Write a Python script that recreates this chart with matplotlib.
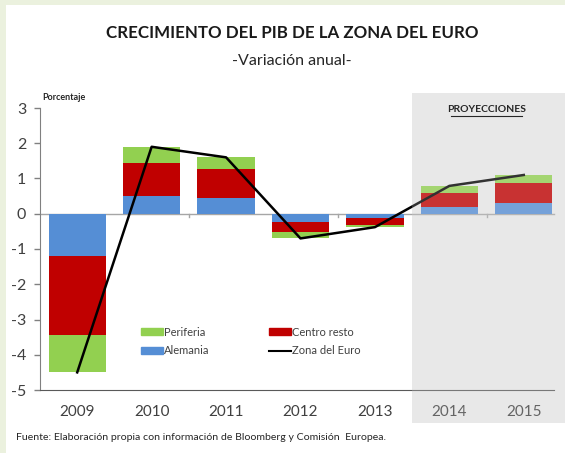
import matplotlib.pyplot as plt
from matplotlib.patches import Rectangle
from matplotlib.lines import Line2D
from matplotlib.transforms import blended_transform_factory

years = ['2009', '2010', '2011', '2012', '2013', '2014', '2015']
alemania = [-1.20, 0.50, 0.45, -0.22, -0.12, 0.20, 0.30]
centro_resto = [-2.25, 0.95, 0.82, -0.31, -0.21, 0.40, 0.57]
periferia = [-1.05, 0.45, 0.33, -0.17, -0.05, 0.19, 0.23]
zona_euro = [-4.50, 1.90, 1.60, -0.70, -0.38, 0.79, 1.10]

plt.rcParams['font.family'] = ['Lato', 'DejaVu Sans']
plt.rcParams['axes.unicode_minus'] = False

c_green = '#92d050'
c_red = '#c00000'
c_blue = '#558ed5'
c_gray = '#e8e8e8'
c_text = '#404040'

fig = plt.figure(figsize=(5.65, 4.53), dpi=100, facecolor='#ebf1de')
fig.patches.append(Rectangle((6 / 565, 0), 1, 1 - 5 / 453, transform=fig.transFigure,
                             facecolor='white', edgecolor='none', zorder=-10))

ax = fig.add_axes([40 / 565, 1 - 390 / 453, 521 / 565, 282 / 453])
ax.set_facecolor('none')

x = list(range(len(years)))
w = 0.77

# stacking: positives and negatives stack away from zero
def stack(*series):
    bottoms = []
    pos = [0.0] * len(years)
    neg = [0.0] * len(years)
    for s in series:
        b = []
        for i, v in enumerate(s):
            if v >= 0:
                b.append(pos[i])
                pos[i] += v
            else:
                b.append(neg[i])
                neg[i] += v
        bottoms.append(b)
    return bottoms

b_ale, b_cen, b_per = stack(alemania, centro_resto, periferia)
ax.bar(x, alemania, w, bottom=b_ale, color=c_blue, zorder=2)
ax.bar(x, centro_resto, w, bottom=b_cen, color=c_red, zorder=2)
ax.bar(x, periferia, w, bottom=b_per, color=c_green, zorder=2)
ax.plot(x, zona_euro, color='black', lw=1.8, zorder=3)

# projections shaded region
tr = blended_transform_factory(ax.transData, fig.transFigure)
ax.add_patch(Rectangle((4.5, 1 - 423 / 453), 5, (423 - 93) / 453, transform=tr,
                       facecolor=c_gray, edgecolor='none', zorder=0, clip_on=False))
ax.add_patch(Rectangle((4.5, 1 - 423 / 453), 5, (423 - 93) / 453, transform=tr,
                       facecolor=c_gray, edgecolor='none', alpha=0.22, zorder=5, clip_on=False))
ax.text(5.5, 2.95, 'PROYECCIONES', ha='center', va='center', fontsize=7.5,
        fontweight='bold', color='#262626', zorder=6)
ax.plot([5.02, 5.98], [2.76, 2.76], color='#262626', lw=0.8, zorder=6)

ax.axhline(0, color='#a6a6a6', lw=1, zorder=1, xmax=0.987)
for t in [1.5, 3.5, 5.5]:
    ax.plot([t, t], [0, -0.1], color='#a6a6a6', lw=1, zorder=1)

ax.set_xlim(-0.5, 6.5)
ax.set_ylim(-5, 3)
ax.set_yticks(range(-5, 4))
ax.set_xticks(x)
ax.set_xticklabels(years)
ax.tick_params(axis='x', length=0, pad=11, labelsize=11, labelcolor=c_text)
ax.tick_params(axis='y', length=4, width=1, color='#808080', pad=6, labelsize=11.5, labelcolor=c_text)
for s in ['top', 'right']:
    ax.spines[s].set_visible(False)
ax.spines['left'].set_color('#808080')
ax.spines['bottom'].set_color('#595959')
ax.spines['bottom'].set_bounds(-0.5, 6.4)

handles = [Rectangle((0, 0), 1, 1, color=c_green), Rectangle((0, 0), 1, 1, color=c_blue),
           Rectangle((0, 0), 1, 1, color=c_red), Line2D([], [], color='black', lw=1.5)]
labels = ['Periferia', 'Alemania', 'Centro resto', 'Zona del Euro']
leg = ax.legend(handles, labels, ncol=2, frameon=False, fontsize=8,
                loc='upper left', bbox_to_anchor=(0.194, 0.225), handlelength=2.0,
                handleheight=0.55, handletextpad=0.1, columnspacing=5.3, labelspacing=0.7,
                borderaxespad=0, borderpad=0)
for t in leg.get_texts():
    t.set_color(c_text)

fig.text(0.517, 0.927, 'CRECIMIENTO DEL PIB DE LA ZONA DEL EURO', ha='center', va='center',
         fontsize=12.2, fontweight='bold', color='#1a1a1a')
fig.text(0.517, 0.865, '-Variación anual-', ha='center', va='center', fontsize=11.5, color='#262626')
fig.text(42 / 565, 1 - 97 / 453, 'Porcentaje', ha='left', va='center', fontsize=6.5,
         fontweight='bold', color='#262626')
fig.text(16 / 565, 1 - 437 / 453,
         'Fuente: Elaboración propia con información de Bloomberg y Comisión  Europea.',
         ha='left', va='center', fontsize=7.55, color='#262626')

fig.savefig('out.png', dpi=100, facecolor=fig.get_facecolor())
